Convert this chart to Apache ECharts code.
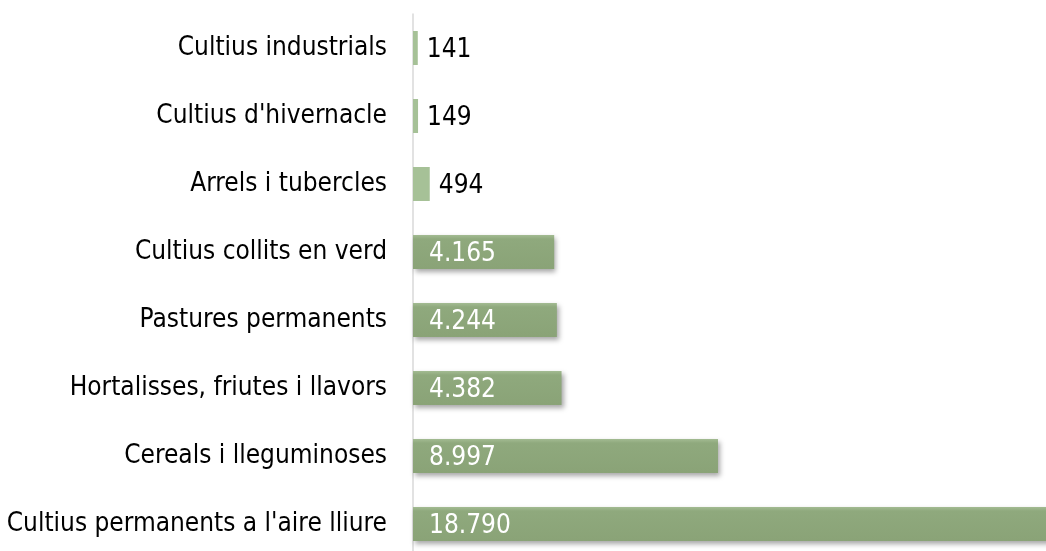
<!DOCTYPE html>
<html><head><meta charset="utf-8">
<script src="https://cdn.jsdelivr.net/npm/echarts@6/dist/echarts.min.js"></script>
<style>html,body{margin:0;padding:0;background:#fff}#c{width:1046px;height:551px}</style>
</head><body><div id="c"></div>
<script>
const categories = ["Cultius industrials","Cultius d'hivernacle","Arrels i tubercles","Cultius collits en verd","Pastures permanents","Hortalisses, friutes i llavors","Cereals i lleguminoses","Cultius permanents a l'aire lliure"];
const values = [141, 149, 494, 4165, 4244, 4382, 8997, 18790];

function fmt(v){ return String(v).replace(/\B(?=(\d{3})+(?!\d))/g, '.'); }
const FONT = '"DejaVu Sans Condensed", "DejaVu Sans", sans-serif';
const chart = echarts.init(document.getElementById('c'));
chart.setOption({
  animation: false,
  grid: { left: 413, top: 14, width: 678, height: 544, outerBoundsMode: 'none', containLabel: false },
  xAxis: { type: 'value', min: 0, max: 20000, show: false },
  yAxis: {
    type: 'category', data: categories, inverse: true,
    axisLine: { show: true, lineStyle: { color: '#d9d9d9', width: 1.5 } },
    axisTick: { show: false },
    axisLabel: { color: '#000', fontFamily: FONT, fontSize: 26, margin: 26 }
  },
  series: [{
    type: 'bar', barWidth: 34,
    data: values.map(v => {
      const inside = v > 1000;
      return {
        value: v,
        itemStyle: inside ? {
          color: new echarts.graphic.LinearGradient(0,0,0,1,[
            {offset:0,color:'#a3bb92'},{offset:0.12,color:'#8fa97d'},{offset:1,color:'#8aa377'}]),
          shadowColor: 'rgba(0,0,0,0.35)', shadowBlur: 5, shadowOffsetX: 2, shadowOffsetY: 3
        } : { color: '#a6c197' },
        label: inside ? {
          show: true, position: 'insideLeft', distance: 16, color: '#fff',
          fontFamily: FONT, fontSize: 26, offset: [0, 2], formatter: p => fmt(p.value)
        } : {
          show: true, position: 'right', distance: 9, color: '#000',
          fontFamily: FONT, fontSize: 26, offset: [0, 2], formatter: p => fmt(p.value)
        }
      };
    })
  }]
});
</script></body></html>
